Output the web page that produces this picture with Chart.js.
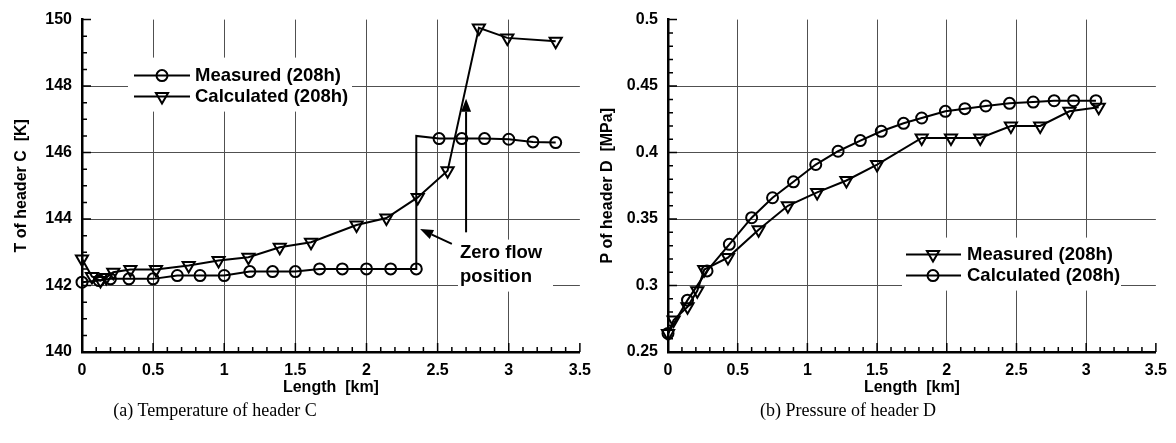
<!DOCTYPE html>
<html>
<head>
<meta charset="utf-8">
<script src="https://cdn.jsdelivr.net/npm/chart.js@4.4.0/dist/chart.umd.min.js"></script>
<style>
  body { margin: 0; background: #fff; width: 1176px; height: 443px; overflow: hidden; position: relative; }
  .box { position: absolute; top: 0; height: 400px; }
  #boxT { left: 0; width: 600px; }
  #boxP { left: 590px; width: 586px; }
  .cap { position: absolute; top: 398px; font: 18px "Liberation Serif", "Times New Roman", serif; transform: translateX(-50%); white-space: nowrap; line-height: 24px; color: #000; }
</style>
</head>
<body>
<div class="box" id="boxT"><canvas id="chartT"></canvas></div>
<div class="box" id="boxP"><canvas id="chartP"></canvas></div>
<div class="cap" style="left:215px">(a) Temperature of header C</div>
<div class="cap" style="left:848px">(b) Pressure of header D</div>
<script>
//
// Data

// (a) header C temperature, length [km] / T [K]
var tMeasX = [0, 0.12, 0.2, 0.33, 0.5, 0.67, 0.83, 1.0, 1.18, 1.34, 1.5, 1.67, 1.83, 2.0, 2.17, 2.35, 2.35, 2.51, 2.67, 2.83, 3.0, 3.17, 3.33];
var tMeasY = [142.1, 142.15, 142.2, 142.2, 142.2, 142.3, 142.3, 142.3, 142.42, 142.42, 142.42, 142.5, 142.5, 142.5, 142.5, 142.5, 146.5, 146.42, 146.42, 146.42, 146.4, 146.32, 146.3];
var tCalcX = [0, 0.07, 0.13, 0.17, 0.22, 0.34, 0.52, 0.75, 0.96, 1.17, 1.39, 1.61, 1.93, 2.14, 2.36, 2.57, 2.79, 2.99, 3.33];
var tCalcY = [142.8, 142.27, 142.15, 142.24, 142.4, 142.48, 142.48, 142.6, 142.75, 142.85, 143.15, 143.3, 143.82, 144.03, 144.65, 145.45, 149.75, 149.45, 149.35];

// (b) header D pressure, length [km] / P [MPa]
var pMeasX = [0, 0.04, 0.14, 0.21, 0.26, 0.43, 0.65, 0.86, 1.07, 1.28, 1.5, 1.82, 2.03, 2.24, 2.46, 2.67, 2.88, 3.09];
var pMeasY = [0.264, 0.274, 0.284, 0.296, 0.312, 0.321, 0.342, 0.36, 0.37, 0.379, 0.391, 0.411, 0.411, 0.411, 0.42, 0.42, 0.431, 0.434];
var pCalcX = [0, 0.14, 0.28, 0.44, 0.6, 0.75, 0.9, 1.06, 1.22, 1.38, 1.53, 1.69, 1.82, 1.99, 2.13, 2.28, 2.45, 2.62, 2.77, 2.91, 3.07];
var pCalcY = [0.264, 0.289, 0.311, 0.331, 0.351, 0.366, 0.378, 0.391, 0.401, 0.409, 0.416, 0.422, 0.426, 0.431, 0.433, 0.435, 0.437, 0.438, 0.439, 0.439, 0.439];

// labelled ticks
var lengthTicks = [0, 0.5, 1, 1.5, 2, 2.5, 3, 3.5];
var tempTicks = [140, 142, 144, 146, 148, 150];
var presTicks = [0.25, 0.3, 0.35, 0.4, 0.45, 0.5];

var FONT = '"Liberation Sans", Arial, Helvetica, sans-serif';
Chart.defaults.font.family = FONT;
Chart.defaults.color = '#000';

function toPoints(xs, ys) {
  return xs.map(function(x, i) { return { x: x, y: ys[i] }; });
}

function isMajor(v, list) {
  return list.some(function(m) { return Math.abs(m - v) < 1e-6; });
}

function fmt(v) {
  return String(Math.round(v * 100) / 100);
}

// point repeated at same x = corner of the step, no marker there
function stepCorner(ctx) {
  var d = ctx.dataset.data, i = ctx.dataIndex;
  return i > 0 && d[i].x === d[i - 1].x;
}

function series(label, xs, ys, style) {
  var tri = style === 'triangle';
  return {
    label: label,
    data: toPoints(xs, ys),
    showLine: true,
    borderColor: '#000',
    borderWidth: 2,
    backgroundColor: 'rgba(0,0,0,0)',
    pointStyle: style,
    pointRotation: tri ? 180 : 0,
    pointRadius: function(ctx) { return stepCorner(ctx) ? 0 : (tri ? 7 : 5.5); },
    pointBorderWidth: 2,
    pointBorderColor: '#000',
    pointBackgroundColor: 'rgba(0,0,0,0)',
    tension: 0,
    clip: false
  };
}

function gridColor(list) {
  return function(c) {
    if (!c.tick) return 'rgba(0,0,0,0)';
    var v = c.tick.value;
    if (v === c.scale.min || v === c.scale.max) return 'rgba(0,0,0,0)';
    return isMajor(v, list) ? '#505050' : 'rgba(0,0,0,0)';
  };
}

function axis(opts) {
  return {
    type: 'linear',
    min: opts.min,
    max: opts.max,
    afterFit: opts.fit,
    ticks: {
      stepSize: opts.step,
      autoSkip: false,
      maxRotation: 0,
      padding: opts.pad,
      color: '#000',
      font: { size: 16, weight: 'bold' },
      callback: function(v) { return isMajor(v, opts.major) ? fmt(v) : ''; }
    },
    grid: { drawTicks: false, color: gridColor(opts.major), lineWidth: 1 },
    border: { display: true, color: '#000', width: 2.5 },
    title: {
      display: true,
      text: opts.title,
      color: '#000',
      font: { size: 16, weight: 'bold' },
      padding: opts.titlePad
    }
  };
}

//
// Inward tick marks along both axes
var innerTicks = {
  id: 'innerTicks',
  afterDraw: function(chart, args, o) {
    var ctx = chart.ctx, a = chart.chartArea;
    var xs = chart.scales.x, ys = chart.scales.y;
    ctx.save();
    ctx.strokeStyle = '#000';
    ctx.lineWidth = 1.5;
    ctx.beginPath();
    xs.ticks.forEach(function(t) {
      var px = xs.getPixelForValue(t.value);
      var len = isMajor(t.value, o.xMajor) ? 9 : 5;
      ctx.moveTo(px, a.bottom);
      ctx.lineTo(px, a.bottom - len);
    });
    ys.ticks.forEach(function(t) {
      var py = ys.getPixelForValue(t.value);
      var len = isMajor(t.value, o.yMajor) ? 9 : 5;
      ctx.moveTo(a.left, py);
      ctx.lineTo(a.left + len, py);
    });
    ctx.stroke();
    ctx.restore();
  }
};

function drawMarker(ctx, style, x, y) {
  ctx.beginPath();
  if (style === 'circle') {
    ctx.arc(x, y, 5.5, 0, Math.PI * 2);
  } else {
    var r = 7, s = r * Math.sin(Math.PI / 3);
    ctx.moveTo(x, y + r);
    ctx.lineTo(x - s, y - r / 2);
    ctx.lineTo(x + s, y - r / 2);
    ctx.closePath();
  }
  ctx.stroke();
}

function drawArrow(ctx, x0, y0, x1, y1) {
  var ang = Math.atan2(y1 - y0, x1 - x0), len = 13, hw = 5;
  var bx = x1 - Math.cos(ang) * len, by = y1 - Math.sin(ang) * len;
  ctx.beginPath();
  ctx.moveTo(x0, y0);
  ctx.lineTo(bx, by);
  ctx.stroke();
  ctx.beginPath();
  ctx.moveTo(x1, y1);
  ctx.lineTo(bx + Math.sin(ang) * hw, by - Math.cos(ang) * hw);
  ctx.lineTo(bx - Math.sin(ang) * hw, by + Math.cos(ang) * hw);
  ctx.closePath();
  ctx.fill();
}

//
// Framed legend and notes, offsets from the plot area corner
var boxNotes = {
  id: 'boxNotes',
  afterDatasetsDraw: function(chart, args, o) {
    var ctx = chart.ctx, a = chart.chartArea;
    var xs = chart.scales.x, ys = chart.scales.y;
    ctx.save();
    ctx.strokeStyle = '#000';
    ctx.fillStyle = '#000';
    ctx.lineWidth = 2;

    (o.arrows || []).forEach(function(ar) {
      drawArrow(ctx, xs.getPixelForValue(ar[0]), ys.getPixelForValue(ar[1]),
                     xs.getPixelForValue(ar[2]), ys.getPixelForValue(ar[3]));
    });

    (o.boxes || []).forEach(function(b) {
      ctx.fillStyle = '#fff';
      ctx.fillRect(a.left + b.box[0], a.top + b.box[1], b.box[2] - b.box[0], b.box[3] - b.box[1]);
      ctx.fillStyle = '#000';
      ctx.font = 'bold ' + b.size + 'px ' + FONT;
      ctx.textBaseline = 'middle';
      ctx.textAlign = 'left';
      b.rows.forEach(function(r) {
        var y = a.top + r.y;
        if (r.style) {
          ctx.beginPath();
          ctx.moveTo(a.left + b.line[0], y);
          ctx.lineTo(a.left + b.line[1], y);
          ctx.stroke();
          drawMarker(ctx, r.style, a.left + b.mark, y);
        }
        ctx.fillText(r.text, a.left + b.textX, y);
      });
    });
    ctx.restore();
  }
};

//
// (a) Temperature of header C
new Chart(document.getElementById('chartT'), {
  type: 'scatter',
  data: {
    datasets: [
      series('Measured (208h)', tMeasX, tMeasY, 'circle'),
      series('Calculated (208h)', tCalcX, tCalcY, 'triangle')
    ]
  },
  options: {
    responsive: true,
    maintainAspectRatio: false,
    animation: false,
    events: [],
    layout: { padding: { top: 15, right: 20, bottom: 0, left: 0 } },
    scales: {
      x: axis({ min: 0, max: 3.5, step: 0.1, major: lengthTicks, pad: 9, title: 'Length  [km]',
                titlePad: { top: 0, bottom: 3 }, fit: function(s) { s.height = 48; } }),
      y: axis({ min: 140, max: 150, step: 0.5, major: tempTicks, pad: 10, title: 'T of header C  [K]',
                titlePad: { top: 12, bottom: 0 }, fit: function(s) { s.width = 82; } })
    },
    plugins: {
      legend: { display: false },
      tooltip: { enabled: false },
      innerTicks: { xMajor: lengthTicks, yMajor: tempTicks },
      boxNotes: {
        arrows: [
          [2.70, 143.6, 2.70, 147.62],
          [2.60, 143.25, 2.377, 143.70]
        ],
        boxes: [
          { box: [46, 38, 270, 92], size: 18.5, line: [52, 108], mark: 80, textX: 113,
            rows: [ { y: 56, style: 'circle', text: 'Measured (208h)' },
                    { y: 77, style: 'triangle', text: 'Calculated (208h)' } ] },
          { box: [376, 220, 471, 272], size: 18.5, textX: 378,
            rows: [ { y: 233, text: 'Zero flow' }, { y: 257, text: 'position' } ] }
        ]
      }
    }
  },
  plugins: [innerTicks, boxNotes]
});

//
// (b) Pressure of header D
new Chart(document.getElementById('chartP'), {
  type: 'scatter',
  data: {
    datasets: [
      series('Measured (208h)', pMeasX, pMeasY, 'triangle'),
      series('Calculated (208h)', pCalcX, pCalcY, 'circle')
    ]
  },
  options: {
    responsive: true,
    maintainAspectRatio: false,
    animation: false,
    events: [],
    layout: { padding: { top: 17, right: 16, bottom: 0, left: 0 } },
    scales: {
      x: axis({ min: 0, max: 3.5, step: 0.1, major: lengthTicks, pad: 9, title: 'Length  [km]',
                titlePad: { top: 0, bottom: 3 }, fit: function(s) { s.height = 48; } }),
      y: axis({ min: 0.25, max: 0.5, step: 0.01, major: presTicks, pad: 10, title: 'P of header D  [MPa]',
                titlePad: { top: 8, bottom: 0 }, fit: function(s) { s.width = 78; } })
    },
    plugins: {
      legend: { display: false },
      tooltip: { enabled: false },
      innerTicks: { xMajor: lengthTicks, yMajor: presTicks },
      boxNotes: {
        boxes: [
          { box: [234, 218, 453, 271], size: 18.5, line: [238, 293], mark: 265, textX: 299,
            rows: [ { y: 235, style: 'triangle', text: 'Measured (208h)' },
                    { y: 256, style: 'circle', text: 'Calculated (208h)' } ] }
        ]
      }
    }
  },
  plugins: [innerTicks, boxNotes]
});
</script>
</body>
</html>
